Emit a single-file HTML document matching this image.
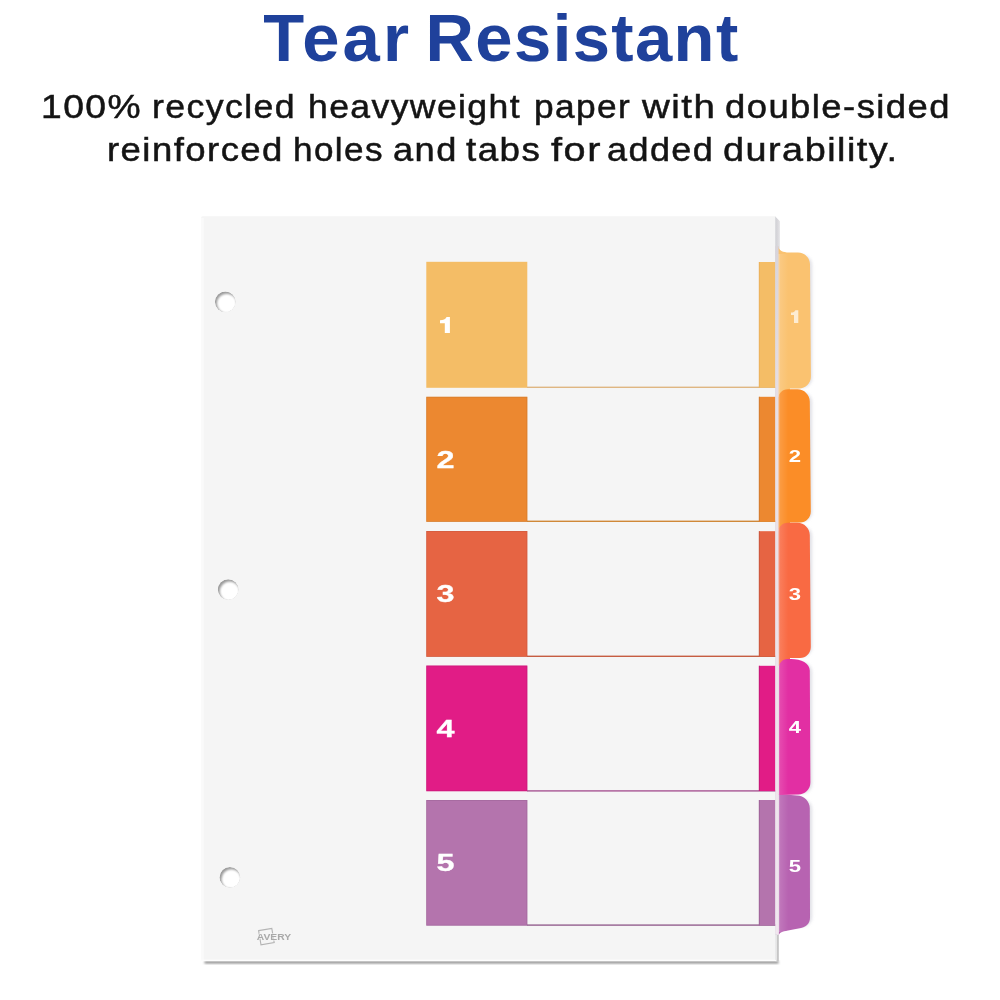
<!DOCTYPE html>
<html>
<head>
<meta charset="utf-8">
<title>Tear Resistant</title>
<style>
  html, body { margin: 0; padding: 0; background: #ffffff; }
  body { width: 1000px; height: 1000px; position: relative; overflow: hidden;
         font-family: "Liberation Sans", sans-serif; }
  .t { position: absolute; white-space: nowrap; line-height: 1; transform-origin: 0 0; }
  #h1a, #h1b { top: 3.8px; font-size: 67px; font-weight: bold; color: #1f419b; }
  #h1a { left: 263.2px; letter-spacing: 3.1px; }
  #h1b { left: 425.6px; letter-spacing: 1.38px; }
  .w { font-size: 33px; color: #141414; letter-spacing: 1.3px; -webkit-text-stroke: 0.5px #141414; }
  svg { position: absolute; left: 0; top: 0; opacity: 0.999; }
</style>
</head>
<body>
<div class="t" id="h1a">Tear</div><div class="t" id="h1b">Resistant</div>
<div class="t w" style="left:41.02px;top:89.7px;transform:scaleX(1.1277)">100%</div>
<div class="t w" style="left:151.68px;top:89.7px;transform:scaleX(1.0812)">recycled</div>
<div class="t w" style="left:307.96px;top:89.7px;transform:scaleX(1.0770)">heavyweight</div>
<div class="t w" style="left:533.60px;top:89.7px;transform:scaleX(1.0697)">paper</div>
<div class="t w" style="left:641.81px;top:89.7px;transform:scaleX(1.1653)">with</div>
<div class="t w" style="left:724.96px;top:89.7px;transform:scaleX(1.1045)">double-sided</div>
<div class="t w" style="left:106.60px;top:133.2px;transform:scaleX(1.1072)">reinforced</div>
<div class="t w" style="left:293.05px;top:133.2px;transform:scaleX(1.0634)">holes</div>
<div class="t w" style="left:392.89px;top:133.2px;transform:scaleX(1.0977)">and</div>
<div class="t w" style="left:466.19px;top:133.2px;transform:scaleX(1.1131)">tabs</div>
<div class="t w" style="left:551.26px;top:133.2px;transform:scaleX(1.2018)">for</div>
<div class="t w" style="left:606.95px;top:133.2px;transform:scaleX(1.0914)">added</div>
<div class="t w" style="left:722.86px;top:133.2px;transform:scaleX(1.1458)">durability.</div>

<svg width="1000" height="1000" viewBox="0 0 1000 1000">
  <defs>
    <linearGradient id="edge" x1="0" x2="1" y1="0" y2="0">
      <stop offset="0" stop-color="#cfd0d4"/>
      <stop offset="0.6" stop-color="#dad9dd"/>
      <stop offset="1" stop-color="#e9e9eb"/>
    </linearGradient>
    <filter id="b1" x="-20%" y="-20%" width="140%" height="140%"><feGaussianBlur stdDeviation="0.9"/></filter>
    <filter id="b2" x="-50%" y="-50%" width="200%" height="200%"><feGaussianBlur stdDeviation="1.6"/></filter>
    <linearGradient id="hl" x1="0" x2="1" y1="0" y2="0"><stop offset="0" stop-color="#fff" stop-opacity="0.34"/><stop offset="0.12" stop-color="#fff" stop-opacity="0.12"/><stop offset="0.6" stop-color="#fff" stop-opacity="0"/></linearGradient>
    <linearGradient id="pe" x1="0" x2="0" y1="0" y2="1"><stop offset="0" stop-color="#d8d4da"/><stop offset="0.25" stop-color="#e8dfe5"/><stop offset="1" stop-color="#f1e6ef"/></linearGradient>
    <clipPath id="hc"><circle r="10.4"/></clipPath>
    <filter id="b3" x="-30%" y="-30%" width="160%" height="160%"><feGaussianBlur stdDeviation="0.9"/></filter>
    <radialGradient id="hole" cx="0.58" cy="0.62" r="0.6">
      <stop offset="0" stop-color="#ffffff"/>
      <stop offset="0.72" stop-color="#fdfdfd"/>
      <stop offset="0.9" stop-color="#e9e9e9"/>
      <stop offset="1" stop-color="#bdbdbd"/>
    </radialGradient>
  </defs>

  <!-- bottom shadow of sheet -->
  <rect x="204.5" y="960.9" width="574" height="2.6" fill="#8c8c8c" filter="url(#b1)"/>
  <!-- tab soft shadows -->
  <g filter="url(#b2)" fill="#cfcfd8" opacity="0.6">
    <rect x="782" y="255" width="30.2" height="133" rx="10"/>
    <rect x="782" y="392" width="30.2" height="130" rx="10"/>
    <rect x="782" y="526" width="30.2" height="131" rx="10"/>
    <rect x="782" y="662" width="30.2" height="132" rx="10"/>
    <rect x="782" y="799" width="30.2" height="128" rx="10"/>
  </g>

  <!-- sheet edge (thickness) -->
  <path d="M775,216.2 L780,221.2 L780,250 L778.8,300 L778.8,961.2 L775,961.2 Z" fill="url(#edge)"/>
  <!-- sheet -->
  <path d="M202.8,216.2 L775.3,216.2 L775.3,961 L201,961 L201,218 Q201,216.2 202.8,216.2 Z" fill="#f5f5f5"/>
  <rect x="201" y="218" width="2.8" height="742" fill="#fafafa"/>
  <rect x="201" y="959.7" width="575.8" height="1.5" fill="#fdfdfd"/>
  <rect x="776.6" y="935" width="2.1" height="26.4" fill="#c6c6c6"/>
  <rect x="775.3" y="935" width="1.4" height="24.8" fill="#efefef"/>

  <!-- holes -->
  <g transform="translate(225.3,301.8)"><g clip-path="url(#hc)"><circle r="10.4" fill="#9a9a9a"/><circle cx="1.5" cy="1.8" r="9.9" fill="#ffffff" filter="url(#b3)"/></g></g>
  <g transform="translate(228.2,589.6)"><g clip-path="url(#hc)"><circle r="10.4" fill="#9a9a9a"/><circle cx="1.5" cy="1.8" r="9.9" fill="#ffffff" filter="url(#b3)"/></g></g>
  <g transform="translate(229.9,877.4)"><g clip-path="url(#hc)"><circle r="10.4" fill="#9a9a9a"/><circle cx="1.5" cy="1.8" r="9.9" fill="#ffffff" filter="url(#b3)"/></g></g>

  <!-- colour blocks -->
  <rect x="426.3" y="261.8" width="101" height="126" fill="#f4bd66"/>
  <rect x="426.3" y="396.8" width="101" height="125" fill="#ec8830"/>
  <rect x="426.3" y="531" width="101" height="125.8" fill="#e66443"/>
  <rect x="426.3" y="665.6" width="101" height="125.6" fill="#e11c86"/>
  <rect x="426.3" y="800" width="101" height="125.6" fill="#b474ad"/>

  <!-- bottom lines -->
  <rect x="527" y="386.6" width="249" height="1.4" fill="#dfb682"/>
  <rect x="527" y="520.6" width="249" height="1.4" fill="#d08838"/>
  <rect x="527" y="655.6" width="249" height="1.4" fill="#c65d42"/>
  <rect x="527" y="790.2" width="249" height="1.4" fill="#a85694"/>
  <rect x="527" y="924.4" width="249" height="1.4" fill="#94608f"/>

  <!-- right strips -->
  <rect x="759" y="262" width="16.4" height="125.6" fill="#f4bd66"/>
  <rect x="759" y="396.8" width="16.4" height="124.8" fill="#ec8830"/>
  <rect x="759" y="531.2" width="16.4" height="125.2" fill="#e66443"/>
  <rect x="759" y="665.8" width="16.4" height="125.2" fill="#e11c86"/>
  <rect x="759" y="800" width="16.4" height="125.4" fill="#b474ad"/>

  <!-- darker left borders on strips -->
  <rect x="758.8" y="262" width="0.9" height="125.6" fill="#eab05a"/>
  <rect x="758.8" y="396.8" width="0.9" height="124.8" fill="#cf7a2e"/>
  <rect x="758.8" y="531.2" width="0.9" height="125.2" fill="#c5553c"/>
  <rect x="758.8" y="665.8" width="0.9" height="125.2" fill="#c01874"/>
  <rect x="758.8" y="800" width="0.9" height="125.4" fill="#9b6295"/>
  <!-- subtle darker edges on blocks -->
  <g fill="none" stroke-width="0.8" opacity="0.55">
    <rect x="426.7" y="397.2" width="100.2" height="124.2" stroke="#c9762c"/>
    <rect x="426.7" y="531.4" width="100.2" height="125" stroke="#c4553c"/>
    <rect x="426.7" y="666" width="100.2" height="124.8" stroke="#bb1872"/>
    <rect x="426.7" y="800.4" width="100.2" height="124.8" stroke="#966093"/>
  </g>

  <!-- plastic edge between strip and tabs -->

  <!-- tabs -->
  <path d="M778,245.5 C778.6,250.6 783,252.5 789,252.5 L798,252.5 C804.7,252.5 810,257.9 810,264.6 L810.9,376.5 C810.9,383.2 805.6,388.4 799,388.4 L790,388.4 L790,392 L778,396 Z" fill="#fac270"/>
  <path d="M777.8,400 C777.8,394 782,389.2 788,389.2 L797.5,389.2 C804.2,389.2 809.8,394.8 809.8,401.5 L810.8,511.4 C810.8,517.6 806,522.4 800,522.4 L790,522.4 L790,526 L777.8,530 Z" fill="#fb8d27"/>
  <path d="M777.8,533.5 C777.8,527.6 782,522.8 788,522.8 L797.5,522.8 C804.2,522.8 809.8,528.4 809.8,535 L810.8,647 C810.8,653.2 806,658 800,658 L790,658 L790,662 L778.6,666 Z" fill="#f96a43"/>
  <path d="M778.8,794 L797,795.6 C804,795.8 809.8,801.4 809.8,808.4 L810,917.5 C810,924 806,927.4 798.4,928.6 L788,930.6 C782,931.8 779.6,932.6 778.8,935.4 Z" fill="#b763b1"/>
  <path d="M778.8,668 C778.8,663 782.4,659 787.4,659 L791,659 C801.4,659 809.8,663.4 809.8,670.6 L810.4,782.6 C810.4,789.2 805,794.6 798.4,794.6 L778.8,795 Z" fill="#e22fa3"/>
  <rect x="775.3" y="246" width="3.3" height="688.5" fill="url(#pe)"/>
  <!-- inner highlight on tab left edge -->
  <rect x="778.6" y="254" width="16" height="678" fill="url(#hl)"/>

  <!-- digits on blocks -->
  <g font-family="Liberation Sans, sans-serif" font-weight="bold" font-size="24" fill="#ffffff" stroke="#ffffff" stroke-width="0.3" text-anchor="middle">
    <path d="M444.8,333 L444.8,323.2 L440,323.2 L440,320.2 C443.2,320.2 445.6,319.2 446.6,317 L449.9,317 L449.9,333 Z" stroke="none"/>
    <text transform="translate(445.5,467.5) scale(1.35,1)">2</text>
    <text transform="translate(445.5,602.1) scale(1.35,1)">3</text>
    <text transform="translate(445.5,736.6) scale(1.35,1)">4</text>
    <text transform="translate(445.5,871.0) scale(1.35,1)">5</text>
  </g>
  <!-- digits on tabs -->
  <g font-family="Liberation Sans, sans-serif" font-weight="bold" font-size="17" fill="#ffffff" text-anchor="middle">
    <path d="M794,323.1 L794,315 L791,315 L791,312.6 C793.2,312.6 794.8,311.8 795.4,310.2 L798.3,310.2 L798.3,323.1 Z" fill="#fdecd2"/>
    <text transform="translate(795,462.3) scale(1.3,1)">2</text>
    <text transform="translate(795,600) scale(1.3,1)">3</text>
    <text transform="translate(795,733) scale(1.3,1)">4</text>
    <text transform="translate(795,871.6) scale(1.3,1)">5</text>
  </g>

  <!-- Avery logo -->
  <g fill="none" stroke="#b4b4b4" stroke-width="1.1">
    <path d="M258.6,930.6 L271.8,928.4 L274.2,942.6 L261,944.8 Z"/>
  </g>
  <text x="256.8" y="940.0" font-family="Liberation Sans, sans-serif" font-weight="bold" font-size="9.2" fill="#a9a9a9" stroke="#f5f5f5" stroke-width="0.9" paint-order="stroke" textLength="34.4" lengthAdjust="spacingAndGlyphs">AVERY</text>
</svg>
</body>
</html>
